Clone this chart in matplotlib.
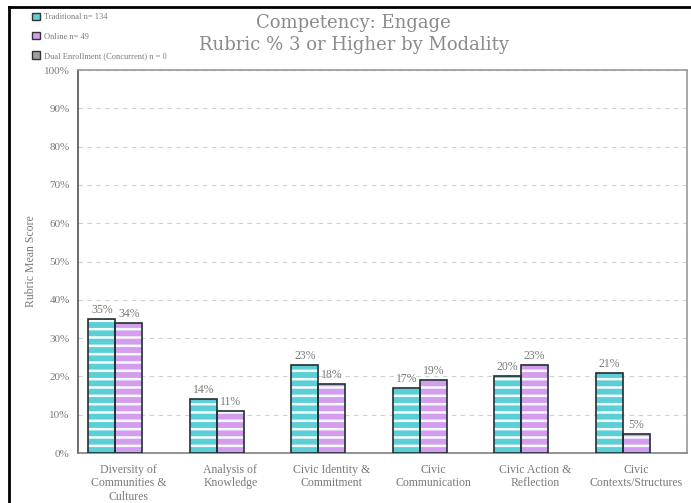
import matplotlib
matplotlib.use('Agg')
import matplotlib.pyplot as plt
import numpy as np
from matplotlib.lines import Line2D
from matplotlib.patches import Patch

# Datos del grafico
categorias = ['Diversity of\nCommunities &\nCultures', 'Analysis of\nKnowledge',
              'Civic Identity &\nCommitment', 'Civic\nCommunication',
              'Civic Action &\nReflection', 'Civic\nContexts/Structures']
tradicional = [35, 14, 23, 17, 20, 21]
online = [34, 11, 18, 19, 23, 5]
dual = [0, 0, 0, 0, 0, 0]
series_nombres = ['Traditional n= 134', 'Online n= 49', 'Dual Enrollment (Concurrent) n = 0']
yticks = list(range(0, 101, 10))

COLOR_TEAL = '#5ccfd6'
COLOR_PURPURA = '#d59ded'
COLOR_GRIS = '#a0a0a0'
TEXTO = '#7a7a7a'

plt.rcParams['font.family'] = ['Liberation Serif', 'DejaVu Serif']
plt.rcParams['hatch.linewidth'] = 1.8

fig = plt.figure(figsize=(6.91, 5.03), dpi=100)
ax = fig.add_axes([0.1129, 0.0994, 0.8813, 0.7614])

x = np.arange(len(categorias))
ancho = 0.266
series = [(tradicional, COLOR_TEAL), (online, COLOR_PURPURA), (dual, COLOR_GRIS)]
for i, (valores, color) in enumerate(series):
    pos = x + (i - 1) * ancho
    if max(valores) == 0:
        continue
    # relleno con rayas claras horizontales
    ax.bar(pos, valores, ancho, color=color, edgecolor='#f4fbfc', linewidth=0,
           hatch='--', zorder=3)
    # borde oscuro encima
    ax.bar(pos, valores, ancho, fill=False, edgecolor='#1f2f33', linewidth=1.2, zorder=4)
    for xp, v in zip(pos, valores):
        ax.text(xp, v + 0.8, f'{v}%', ha='center', va='bottom', fontsize=8.5,
                color=TEXTO, zorder=5)

ax.set_xlim(-0.5, len(categorias) - 0.5)
ax.set_ylim(0, 100)
ax.set_yticks(yticks)
ax.set_yticklabels([f'{t}%' for t in yticks], fontsize=8, color=TEXTO)
ax.set_xticks(x)
ax.set_xticklabels(categorias, fontsize=8.5, color=TEXTO, linespacing=1.15)
ax.tick_params(length=0, pad=6)
ax.tick_params(axis='x', pad=8)
ax.set_ylabel('Rubric Mean Score', fontsize=8.5, color=TEXTO, labelpad=5)
ax.yaxis.grid(True, linestyle=(0, (4, 4)), color='#d0d0d0', linewidth=0.8, zorder=0)
ax.set_axisbelow(True)
for lado in ['top', 'right']:
    ax.spines[lado].set_color('#9a9a9a')
ax.spines['left'].set_color('#505050')
ax.spines['bottom'].set_color('#808080')
for s in ax.spines.values():
    s.set_linewidth(1.2)

fig.text(0.512, 0.932, 'Competency: Engage\nRubric % 3 or Higher by Modality',
         ha='center', va='center', fontsize=13, color='#8a8a8a', linespacing=1.25,
         family=['DejaVu Serif'])

# Leyenda arriba a la izquierda
manejadores = [Patch(facecolor=COLOR_TEAL, edgecolor='#333333'),
               Patch(facecolor=COLOR_PURPURA, edgecolor='#333333'),
               Patch(facecolor=COLOR_GRIS, edgecolor='#333333')]
fig.legend(manejadores, series_nombres, loc='upper left', bbox_to_anchor=(0.035, 0.99),
           frameon=False, fontsize=6, labelcolor=TEXTO, handlelength=1.0,
           handleheight=1.0, handletextpad=0.5, labelspacing=1.3)

# Marco negro de la figura
fig.add_artist(Line2D([0.013, 0.013], [0, 0.986], color='black', linewidth=2))
fig.add_artist(Line2D([0.013, 1.0], [0.986, 0.986], color='black', linewidth=2))

fig.savefig('out.png', dpi=100, facecolor='white')
